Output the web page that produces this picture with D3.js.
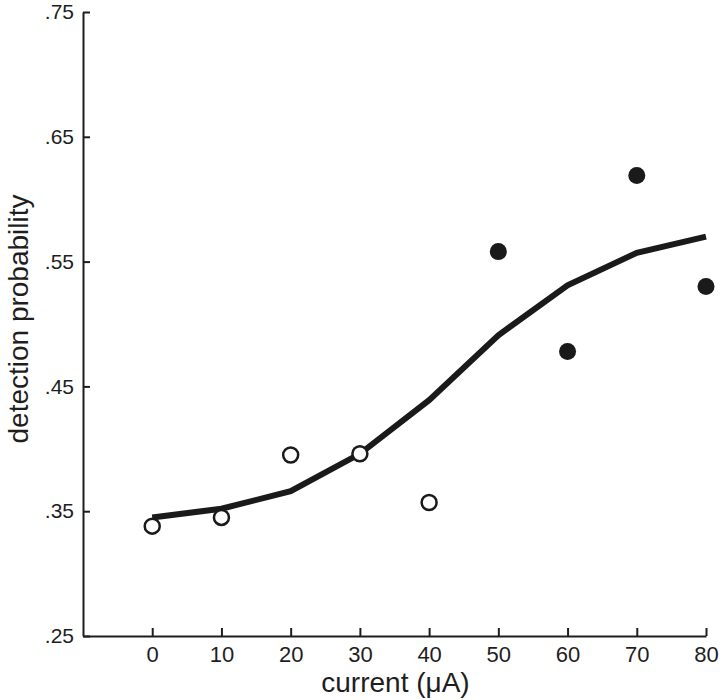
<!DOCTYPE html>
<html>
<head>
<meta charset="utf-8">
<script src="https://cdn.jsdelivr.net/npm/d3@7"></script>
<style>
  body { margin: 0; background: #fff; }
  svg { display: block; font-family: "Liberation Sans", Arial, sans-serif; }
</style>
</head>
<body>
<svg id="container" width="720" height="700"></svg>
<script>
const width = 720;
const height = 700;
const margin = ({top: 12, right: 14, bottom: 64, left: 83});

// observed points
const currents = [0, 10, 20, 30, 40, 50, 60, 70, 80];
const observed = [0.338, 0.345, 0.395, 0.396, 0.357, 0.558, 0.478, 0.619, 0.530];
// which points are drawn filled
const filled = [false, false, false, false, false, true, true, true, true];
// fitted curve
const fitted = [0.345, 0.352, 0.366, 0.396, 0.439, 0.491, 0.531, 0.557, 0.570];

const xTicks = [0, 10, 20, 30, 40, 50, 60, 70, 80];
const yTicks = [0.25, 0.35, 0.45, 0.55, 0.65, 0.75];

const x = d3.scaleLinear()
    .domain([-10, 80])
    .range([margin.left, width - margin.right]);

const y = d3.scaleLinear()
    .domain([0.25, 0.75])
    .range([height - margin.bottom, margin.top]);

const svg = d3.select("#container");

const ink = "#1e1e1e";

const xAxis = g => g
    .attr("transform", `translate(0,${height - margin.bottom})`)
    .call(d3.axisBottom(x)
        .tickValues(xTicks)
        .tickSize(-8)
        .tickSizeOuter(0)
        .tickPadding(10))
    .call(g => g.selectAll("path, line").attr("stroke", ink).attr("stroke-width", 2))
    .call(g => g.selectAll("text").attr("fill", ink).attr("font-size", 22));

const yAxis = g => g
    .attr("transform", `translate(${margin.left},0)`)
    .call(d3.axisLeft(y)
        .tickValues(yTicks)
        .tickSize(-7)
        .tickSizeOuter(0)
        .tickPadding(9)
        .tickFormat(d => d3.format(".2f")(d).replace(/^0/, "")))
    .call(g => g.selectAll("path, line").attr("stroke", ink).attr("stroke-width", 2))
    .call(g => g.selectAll("text").attr("fill", ink).attr("font-size", 21));

svg.append("g").call(xAxis);
svg.append("g").call(yAxis);

svg.append("text")
    .attr("x", (x(-10) + x(80)) / 2 + 1)
    .attr("y", 692)
    .attr("text-anchor", "middle")
    .attr("fill", ink)
    .attr("font-size", 28)
    .text("current (\u03BCA)");

svg.append("text")
    .attr("transform", `translate(28,${(y(0.25) + y(0.75)) / 2 - 5}) rotate(-90)`)
    .attr("text-anchor", "middle")
    .attr("fill", ink)
    .attr("font-size", 28)
    .text("detection probability");

const line = d3.line()
    .x((d, i) => x(currents[i]))
    .y(d => y(d));

svg.append("path")
    .datum(fitted)
    .attr("fill", "none")
    .attr("stroke", "#1a1a1a")
    .attr("stroke-width", 6)
    .attr("d", line);

svg.append("g")
    .selectAll("circle")
    .data(observed)
    .join("circle")
    .attr("cx", (d, i) => x(currents[i]))
    .attr("cy", d => y(d))
    .attr("r", (d, i) => filled[i] ? 8.5 : 7.5)
    .attr("fill", (d, i) => filled[i] ? "#1a1a1a" : "#fff")
    .attr("stroke", "#1a1a1a")
    .attr("stroke-width", (d, i) => filled[i] ? 0 : 2.5);
</script>
</body>
</html>
